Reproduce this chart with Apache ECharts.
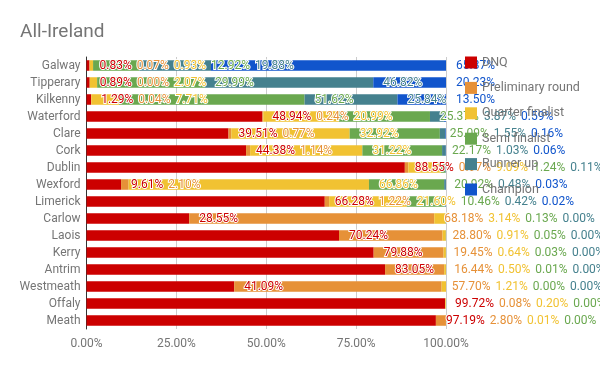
<!DOCTYPE html>
<html><head><meta charset="utf-8">
<script src="https://cdn.jsdelivr.net/npm/echarts@6/dist/echarts.min.js"></script>
<style>html,body{margin:0;padding:0;background:#fff}#c{width:600px;height:371px}</style>
</head><body><div id="c"></div>
<script>
const categories = ['Galway','Tipperary','Kilkenny','Waterford','Clare','Cork','Dublin','Wexford','Limerick','Carlow','Laois','Kerry','Antrim','Westmeath','Offaly','Meath'];
const seriesNames = ['DNQ','Preliminary round','Quarter finalist','Semi finalist','Runner up','Champion'];
const dnq    = [0.83,0.89,1.29,48.94,39.51,44.38,88.55,9.61,66.28,28.55,70.24,79.88,83.05,41.09,99.72,97.19];
const prelim = [0.07,0.00,0.04,0.24,0.77,1.14,0.97,2.10,1.22,68.18,28.80,19.45,16.44,57.70,0.08,2.80];
const qf     = [0.93,2.07,7.71,20.99,32.92,31.22,9.09,66.86,21.60,3.14,0.91,0.64,0.50,1.21,0.20,0.01];
const sf     = [12.92,29.99,51.62,25.37,25.09,22.17,1.24,20.92,10.46,0.13,0.05,0.03,0.01,0.00,0.00,0.00];
const ru     = [19.88,46.82,25.84,3.87,1.55,1.03,0.11,0.48,0.42,0.00,0.00,0.00,0.00,0.00,0.00,0.00];
const champ  = [65.37,20.23,13.50,0.59,0.16,0.06,0.04,0.03,0.02,0.00,0.00,0.00,0.00,0.00,0.00,0.00];
const xTicks = [0,25,50,75,100];

const seriesData = [dnq, prelim, qf, sf, ru, champ];
const colors = ['#cc0000','#e69138','#f1c232','#6aa84f','#45818e','#1155cc'];
const FONT = 'Roboto';
const GRAY = '#757575';

const chart = echarts.init(document.getElementById('c'), null, {renderer:'canvas'});
const fmt = v => v.toFixed(2) + '%';

chart.setOption({
  animation: false,
  textStyle: {fontFamily: FONT},
  title: {text: 'All-Ireland', left: 15, top: 18,
    textStyle: {fontFamily: FONT, fontSize: 19, fontWeight: 'normal', color: GRAY}},
  legend: {orient: 'vertical', left: 460, top: 51, itemWidth: 12, itemHeight: 12, itemGap: 12.4,
    icon: 'rect', data: seriesNames,
    textStyle: {fontFamily: FONT, fontSize: 12.5, color: GRAY}},
  grid: {left: 86.5, right: 154, top: 57, bottom: 42, containLabel: false},
  xAxis: {type: 'value', min: xTicks[0], max: xTicks[xTicks.length-1], interval: 25,
    axisLine: {show: false}, axisTick: {show: false},
    splitLine: {lineStyle: {color: '#cccccc'}},
    axisLabel: {formatter: v => fmt(v), color: GRAY, fontSize: 12, fontFamily: FONT, margin: 9}},
  yAxis: {type: 'category', inverse: true, data: categories,
    axisTick: {show: false},
    axisLine: {lineStyle: {color: '#333333'}},
    axisLabel: {color: GRAY, fontSize: 12, fontFamily: FONT, margin: 6}},
  series: seriesNames.map((n, i) => ({
    name: n, type: 'bar', stack: 'total', barWidth: '62%',
    itemStyle: {color: colors[i]},
    data: seriesData[i]
  }))
});

// Cascaded labels (each placed after its segment end, pushed right by previous labels)
const ctx = document.createElement('canvas').getContext('2d');
ctx.font = '12px ' + FONT;
const newSeries = seriesNames.map(() => ({data: []}));
for (let c = 0; c < categories.length; c++) {
  let cum = 0, prevEnd = -Infinity;
  for (let s = 0; s < seriesData.length; s++) {
    const v = seriesData[s][c];
    const start = chart.convertToPixel({xAxisIndex: 0}, cum);
    cum += v;
    const end = chart.convertToPixel({xAxisIndex: 0}, cum);
    const text = fmt(v);
    const w = ctx.measureText(text).width;
    const x = Math.max(end + 10, prevEnd + 5);
    prevEnd = x + w;
    newSeries[s].data.push({
      value: v,
      label: {show: true, position: [x - start, '50%'], align: 'left', verticalAlign: 'middle',
        formatter: text, color: colors[s], fontSize: 12, fontFamily: FONT,
        textBorderColor: '#ffffff', textBorderWidth: 2}
    });
  }
}
chart.setOption({series: newSeries});
</script>
</body></html>
